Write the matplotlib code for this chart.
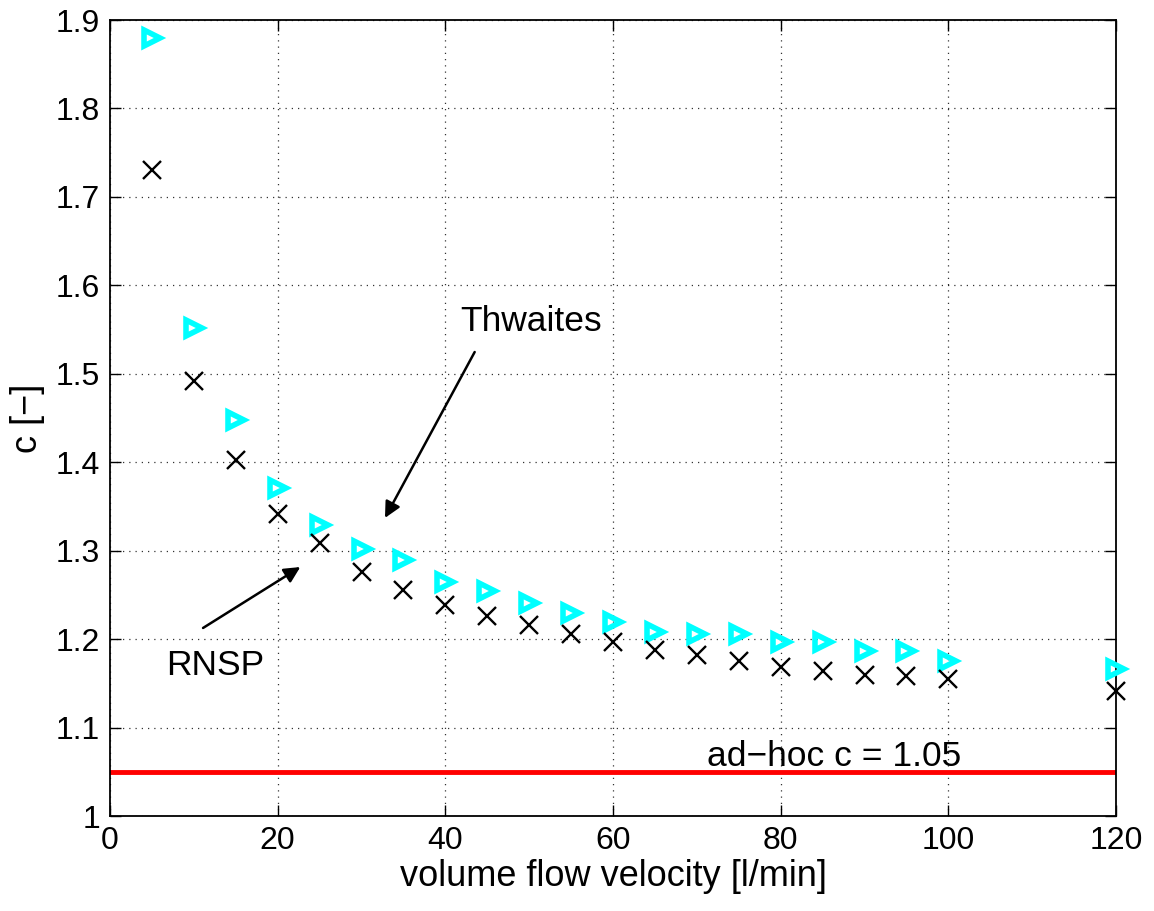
import numpy as np
import matplotlib.pyplot as plt

plt.rcParams['font.family'] = ['Liberation Sans', 'DejaVu Sans']

flow = [5, 10, 15, 20, 25, 30, 35, 40, 45, 50, 55, 60, 65, 70, 75, 80, 85, 90, 95, 100, 120]
c_thwaites = [1.880, 1.552, 1.448, 1.371, 1.329, 1.302, 1.290, 1.265, 1.254, 1.241, 1.230,
              1.219, 1.208, 1.206, 1.206, 1.197, 1.197, 1.186, 1.186, 1.175, 1.166]
c_rnsp = [1.730, 1.492, 1.402, 1.341, 1.309, 1.276, 1.255, 1.239, 1.226, 1.216, 1.206,
          1.197, 1.188, 1.182, 1.175, 1.169, 1.164, 1.159, 1.158, 1.155, 1.141]
c_adhoc = 1.05

fig = plt.figure(figsize=(11.54, 9.11), dpi=100)
ax = fig.add_axes([110 / 1154, 1 - 816 / 911, 1006 / 1154, 796 / 911])

ax.axhline(c_adhoc, color='red', lw=3.5, zorder=2)
ax.plot(flow, c_thwaites, ls='none', marker='>', ms=11.5, mfc='none', mec='cyan', mew=4,
        zorder=3, clip_on=False)
ax.plot(flow, c_rnsp, ls='none', marker='x', ms=13, color='black', mew=1.7,
        zorder=3, clip_on=False)

ax.set_xlim(0, 120)
ax.set_ylim(1, 1.9)
ax.set_xticks(np.arange(0, 121, 20))
ax.set_yticks(np.arange(1, 1.91, 0.1))
ax.set_yticklabels(['1', '1.1', '1.2', '1.3', '1.4', '1.5', '1.6', '1.7', '1.8', '1.9'])
ax.grid(True, ls=(0, (1, 4)), color='black', lw=0.9, alpha=0.8)
ax.tick_params(direction='in', length=8, width=1, top=True, right=True, labelsize=23, pad=7)
for s in ax.spines.values():
    s.set_linewidth(1.3)

ax.set_xlabel('volume flow velocity [l/min]', fontsize=26, labelpad=2)
ax.set_ylabel('c [\u2212]', fontsize=26, labelpad=8)

# labels and arrows
ax.text(86.4, 1.0565, 'ad\u2212hoc c = 1.05', fontsize=25.5, ha='center', va='baseline')
ax.text(50.2, 1.5586, 'Thwaites', fontsize=25.5, ha='center', va='center')
ax.text(12.6, 1.1707, 'RNSP', fontsize=25.5, ha='center', va='center')
arrow = dict(arrowstyle='-|>', color='black', lw=1.8, mutation_scale=24, shrinkA=0, shrinkB=0)
ax.annotate('', xy=(32.8, 1.337), xytext=(43.5, 1.5246), arrowprops=arrow)
ax.annotate('', xy=(22.7, 1.2815), xytext=(11.1, 1.2126), arrowprops=arrow)

fig.savefig('out.png', dpi=100)
